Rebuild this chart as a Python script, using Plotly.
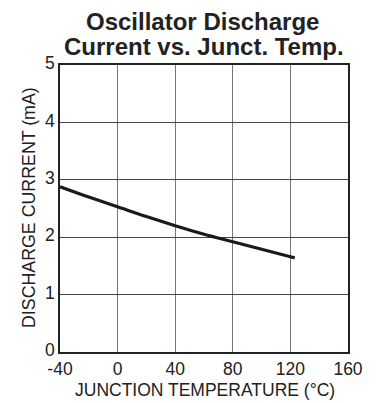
import plotly.graph_objects as go

temps = [-40, -20, 0, 20, 40, 60, 80, 100, 120, 123]
current = [2.88, 2.70, 2.53, 2.36, 2.20, 2.05, 1.92, 1.79, 1.66, 1.64]

x_ticks = [-40, 0, 40, 80, 120, 160]
x_tick_text = ["-40", "0", "40", "80", "120", "160"]
y_ticks = [0, 1, 2, 3, 4, 5]

title_lines = ["Oscillator Discharge", "Current vs. Junct. Temp."]
x_title = "JUNCTION TEMPERATURE (°C)"
y_title = "DISCHARGE CURRENT (mA)"

font = "Liberation Sans, Arial, sans-serif"

# page body adds an 8px offset; figure sized to fit the 382x403 window
OFF = 8
W, H = 382 - OFF, 403 - OFF
# plot area in window pixels: x 60..348, y 65..352
L, T = 60 - OFF, 65 - OFF
R, B = (382 - 348), (403 - 352)
PW, PH = W - L - R, H - T - B


def px_x(px):
    return (px - OFF - L) / PW


def px_y(py):
    return (H - B - (py - OFF)) / PH


fig = go.Figure()
fig.add_trace(go.Scatter(x=temps, y=current, mode="lines",
                         line=dict(color="#1a1a1a", width=3.2, shape="spline"),
                         showlegend=False, hoverinfo="skip"))

annotations = [
    dict(text="<b>%s</b>" % title_lines[0], x=px_x(202), y=px_y(22),
         font=dict(size=24, color="#222")),
    dict(text="<b>%s</b>" % title_lines[1], x=px_x(203.5), y=px_y(46.5),
         font=dict(size=24, color="#222")),
    dict(text=x_title, x=px_x(204.5), y=px_y(390),
         font=dict(size=17.5, color="#222")),
    dict(text=y_title, x=px_x(29), y=px_y(208), textangle=-90,
         font=dict(size=17.8, color="#222")),
]
for a in annotations:
    a.update(xref="paper", yref="paper", xanchor="center", yanchor="middle",
             showarrow=False)

fig.update_layout(
    width=W, height=H,
    margin=dict(l=L, r=R, t=T, b=B),
    paper_bgcolor="white", plot_bgcolor="white",
    font=dict(family=font, size=17.5, color="#222"),
    annotations=annotations,
)
fig.update_xaxes(range=[-40, 160], tickvals=x_ticks, ticktext=x_tick_text,
                 showgrid=True, gridcolor="#777", gridwidth=1,
                 showline=True, linecolor="#222", linewidth=1.5, mirror=True,
                 ticks="", zeroline=False, automargin=False,
                 tickfont=dict(size=17.5))
fig.update_yaxes(range=[0, 5], tickvals=y_ticks,
                 showgrid=True, gridcolor="#444", gridwidth=1,
                 showline=True, linecolor="#222", linewidth=1.5, mirror=True,
                 ticks="", zeroline=False, automargin=False,
                 ticklabelshift=-2,
                 tickfont=dict(size=17.5))

fig.write_html("out.html")
